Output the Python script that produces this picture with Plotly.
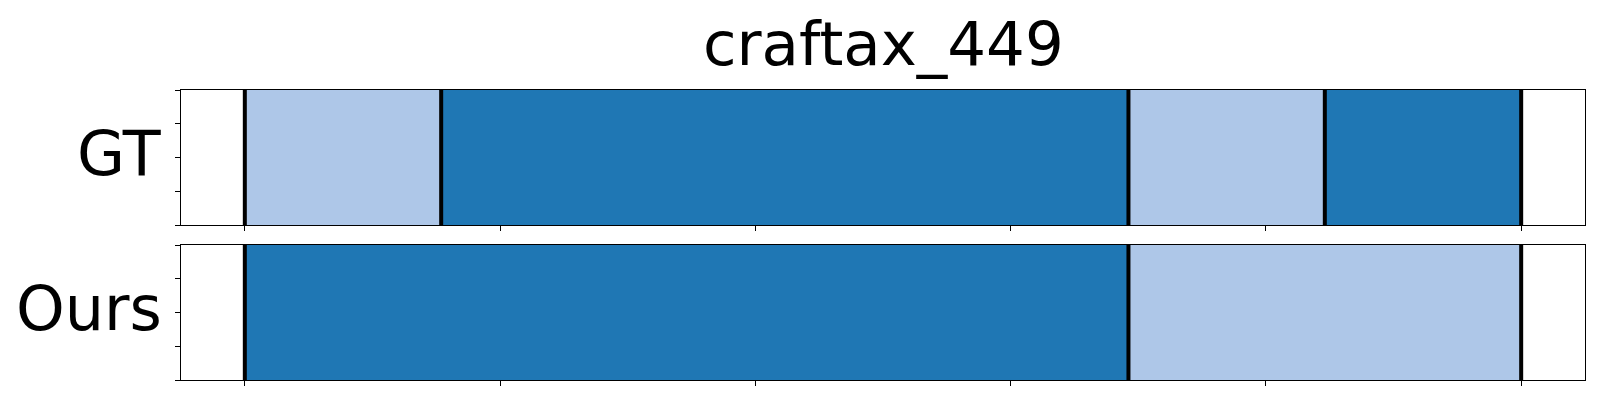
import numpy as np
import plotly.graph_objects as go
from plotly.subplots import make_subplots

# ---- data ----
title_text = "craftax_449"
row_labels = ["GT", "Ours"]
total_len = 13
gt_starts = [0, 2, 9, 11]
gt_ends = [2, 9, 11, 13]
gt_classes = [1, 0, 1, 0]
ours_starts = [0, 9]
ours_ends = [9, 13]
ours_classes = [0, 1]
class_colors = ["#1f77b4", "#aec7e8"]
n_xticks = 6
y_ticks = [0, 0.25, 0.5, 0.75, 1.0]

W, H = 1600, 400
ml, mr, mt, mb = 173, 23, 82, 28
plot_h = H - mt - mb
gap_frac = 20 / plot_h

fig = make_subplots(rows=2, cols=1, shared_xaxes=False, vertical_spacing=gap_frac)

rows = [(gt_starts, gt_ends, gt_classes), (ours_starts, ours_ends, ours_classes)]
for r, (starts, ends, classes) in enumerate(rows, start=1):
    for s, e, c in zip(starts, ends, classes):
        fig.add_trace(go.Bar(
            orientation="h", y=[0.5], x=[e - s], base=[s], width=1.0,
            marker=dict(color=class_colors[c], line=dict(width=0)),
            showlegend=False, hoverinfo="skip"), row=r, col=1)
    bounds = sorted(set(starts) | set(ends))
    bx, by = [], []
    for b in bounds:
        bx += [b, b, None]
        by += [0, 1, None]
    fig.add_trace(go.Scatter(x=bx, y=by, mode="lines",
                             line=dict(color="black", width=4),
                             showlegend=False, hoverinfo="skip"), row=r, col=1)

margin = 0.05 * total_len
xt = list(np.linspace(0, total_len, n_xticks))
for r in (1, 2):
    fig.update_xaxes(range=[-margin, total_len + margin], tickvals=xt, showticklabels=False,
                     ticks="outside", ticklen=5, tickwidth=1, tickcolor="black",
                     showline=True, linecolor="black", linewidth=1, mirror=True,
                     showgrid=False, zeroline=False, row=r, col=1)
    fig.update_yaxes(range=[0, 1], tickvals=y_ticks, showticklabels=False,
                     ticks="outside", ticklen=5, tickwidth=1, tickcolor="black",
                     showline=True, linecolor="black", linewidth=1, mirror=True,
                     showgrid=False, zeroline=False, row=r, col=1)

font = "DejaVu Sans"
anns = []
for i, lab in enumerate(row_labels):
    yref = "y domain" if i == 0 else "y2 domain"
    anns.append(dict(text=lab, x=0, xref="paper", xanchor="right", xshift=-17,
                     y=0.5, yref=yref, yanchor="middle", yshift=4, showarrow=False,
                     font=dict(family=font, size=62, color="black")))
anns.append(dict(text=title_text, x=0.5, xref="paper", y=1, yref="paper",
                 yanchor="bottom", yshift=10, borderpad=0, showarrow=False,
                 font=dict(family=font, size=61, color="black")))

fig.update_layout(width=W, height=H, margin=dict(l=ml, r=mr, t=mt, b=mb),
                  paper_bgcolor="white", plot_bgcolor="white", barmode="overlay",
                  bargap=0, annotations=anns, font=dict(family=font))

fig.write_html("out.html")
